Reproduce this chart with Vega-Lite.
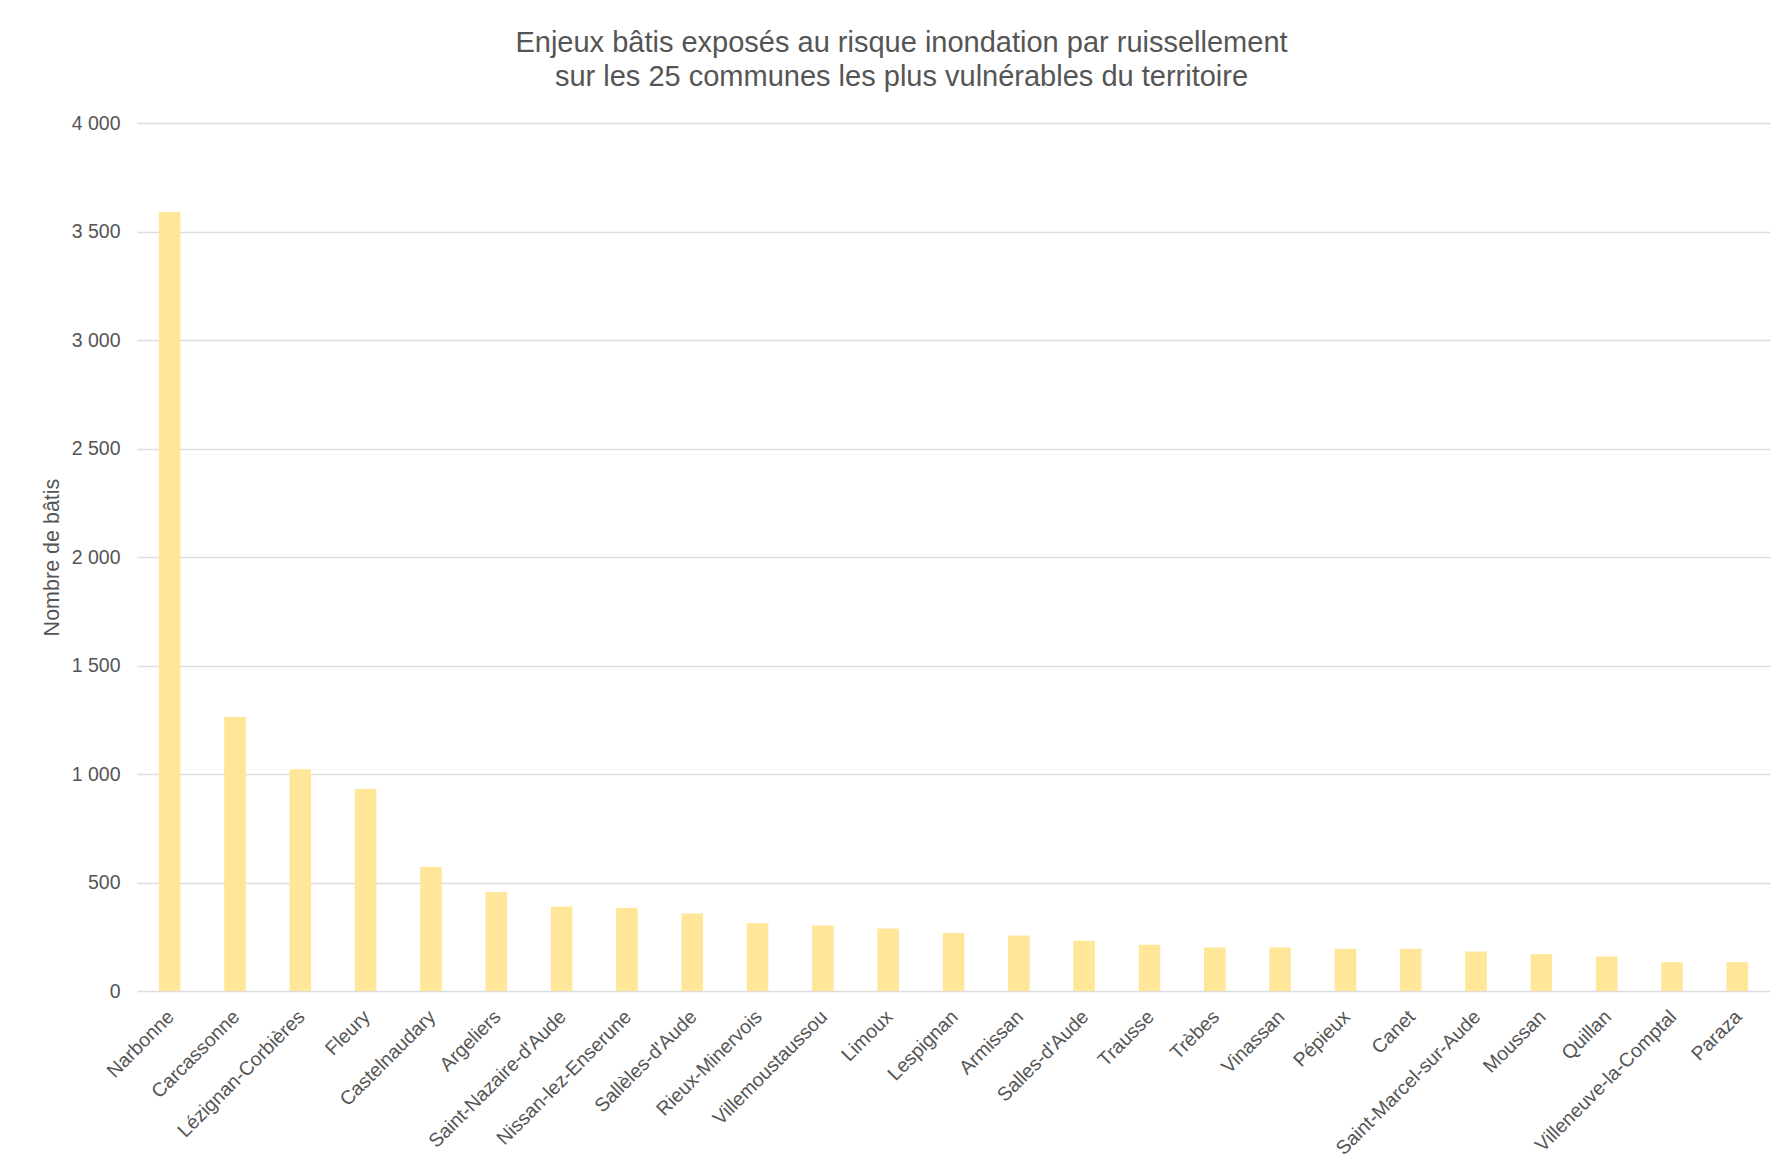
{
  "$schema": "https://vega.github.io/schema/vega-lite/v6.json",
  "autosize": {"type": "none"},
  "width": 1633,
  "height": 868,
  "padding": {"left": 137, "top": 123, "right": 19, "bottom": 178},
  "background": "white",
  "title": {
    "text": ["Enjeux bâtis exposés au risque inondation par ruissellement", "sur les 25 communes les plus vulnérables du territoire"],
    "anchor": "middle",
    "font": "Liberation Sans",
    "fontSize": 29,
    "fontWeight": "normal",
    "color": "#555555",
    "lineHeight": 34,
    "baseline": "top",
    "dx": -52,
    "offset": 0,
    "dy": -21
  },
  "data": {
    "values": [
      {"commune": "Narbonne", "batis": 3590},
      {"commune": "Carcassonne", "batis": 1263},
      {"commune": "Lézignan-Corbières", "batis": 1022},
      {"commune": "Fleury", "batis": 931},
      {"commune": "Castelnaudary", "batis": 571},
      {"commune": "Argeliers", "batis": 456},
      {"commune": "Saint-Nazaire-d'Aude", "batis": 389},
      {"commune": "Nissan-lez-Enserune", "batis": 384},
      {"commune": "Sallèles-d'Aude", "batis": 357},
      {"commune": "Rieux-Minervois", "batis": 312},
      {"commune": "Villemoustaussou", "batis": 302},
      {"commune": "Limoux", "batis": 288},
      {"commune": "Lespignan", "batis": 267},
      {"commune": "Armissan", "batis": 256},
      {"commune": "Salles-d'Aude", "batis": 232},
      {"commune": "Trausse", "batis": 213},
      {"commune": "Trèbes", "batis": 201},
      {"commune": "Vinassan", "batis": 201},
      {"commune": "Pépieux", "batis": 195},
      {"commune": "Canet", "batis": 195},
      {"commune": "Saint-Marcel-sur-Aude", "batis": 182},
      {"commune": "Moussan", "batis": 170},
      {"commune": "Quillan", "batis": 159},
      {"commune": "Villeneuve-la-Comptal", "batis": 133},
      {"commune": "Paraza", "batis": 133}
    ]
  },
  "mark": {"type": "bar", "color": "#FFE699", "width": {"band": 0.33}},
  "encoding": {
    "x": {
      "field": "commune",
      "type": "nominal",
      "sort": null,
      "scale": {"paddingInner": 0, "paddingOuter": 0},
      "axis": {
        "title": null,
        "labelAngle": -45,
        "labelFont": "Liberation Sans",
        "labelFontSize": 19.5,
        "labelColor": "#555555",
        "ticks": false,
        "domain": false,
        "labelPadding": 16,
        "labelOffset": -5,
        "labelOverlap": false,
        "labelLimit": 400
      }
    },
    "y": {
      "field": "batis",
      "type": "quantitative",
      "scale": {"domain": [0, 4000], "nice": false},
      "axis": {
        "title": "Nombre de bâtis",
        "titleFont": "Liberation Sans",
        "titleFontSize": 21.5,
        "titleFontWeight": "normal",
        "titleColor": "#555555",
        "titlePadding": 8,
        "values": [0, 500, 1000, 1500, 2000, 2500, 3000, 3500, 4000],
        "labelExpr": "replace(format(datum.value, ','), ',', ' ')",
        "labelFont": "Liberation Sans",
        "labelFontSize": 19.5,
        "labelColor": "#555555",
        "labelPadding": 17,
        "ticks": false,
        "domain": false,
        "grid": true,
        "gridColor": "#dddddd",
        "gridWidth": 1.5
      }
    }
  },
  "config": {
    "view": {"stroke": null}
  }
}
